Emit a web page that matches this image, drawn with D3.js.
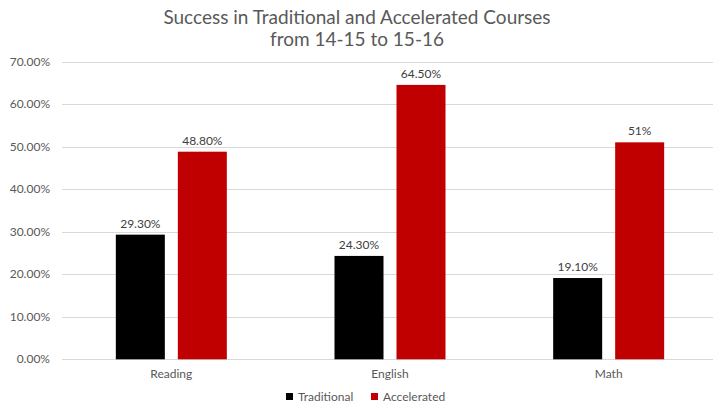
<!DOCTYPE html>
<html>
<head>
<meta charset="utf-8">
<script src="https://cdn.jsdelivr.net/npm/d3@7"></script>
<style>
  body { margin: 0; background: #fff; }
  svg { font-family: Lato, "Open Sans", sans-serif; }
</style>
</head>
<body>
<div id="chart"></div>
<script>
// chart data
const categories = ["Reading", "English", "Math"];
const series = ["Traditional", "Accelerated"];
const traditional = [29.3, 24.3, 19.1];
const accelerated = [48.8, 64.5, 51];
const valueLabels = {
  Traditional: ["29.30%", "24.30%", "19.10%"],
  Accelerated: ["48.80%", "64.50%", "51%"]
};
const yTicks = [0, 10, 20, 30, 40, 50, 60, 70];
const colors = { Traditional: "#000000", Accelerated: "#C00000" };

const W = 713, H = 407;
const margin = { top: 61.5, left: 62, bottom: 48 };
const plotRight = 718; // plot area runs past the right edge of the picture

const svg = d3.select("#chart")
  .append("svg")
  .attr("width", W)
  .attr("height", H);

const y = d3.scaleLinear()
  .domain([0, 70])
  .range([H - margin.bottom + 0.3, margin.top]);

const x0 = d3.scaleBand()
  .domain(categories)
  .range([margin.left, plotRight]);

const x1 = d3.scaleBand()
  .domain(series)
  .range([0, 111])
  .paddingInner(13 / 62);

// title
svg.append("text")
  .attr("x", 357).attr("y", 24)
  .attr("text-anchor", "middle")
  .style("font-size", "19px")
  .style("fill", "#595959")
  .text("Success in Traditional and Accelerated Courses");
svg.append("text")
  .attr("x", 357).attr("y", 46)
  .attr("text-anchor", "middle")
  .style("font-size", "19px")
  .style("fill", "#595959")
  .text("from 14-15 to 15-16");

// gridlines
svg.append("g")
  .selectAll("line")
  .data(yTicks)
  .enter()
  .append("line")
  .attr("x1", margin.left)
  .attr("x2", plotRight)
  .attr("y1", d => Math.round(y(d)) + 0.5)
  .attr("y2", d => Math.round(y(d)) + 0.5)
  .attr("stroke", "#D9D9D9")
  .attr("stroke-width", 1);

// y axis labels
svg.append("g")
  .selectAll("text")
  .data(yTicks)
  .enter()
  .append("text")
  .attr("x", 50)
  .attr("y", d => y(d) + 4)
  .attr("text-anchor", "end")
  .style("font-size", "12px")
  .style("fill", "#595959")
  .text(d => d.toFixed(2) + "%");

// bars
const groups = svg.append("g")
  .selectAll("g")
  .data(categories)
  .enter()
  .append("g")
  .attr("transform", c => `translate(${x0(c) + x0.bandwidth() / 2 - 55.5},0)`);

const valuesFor = { Traditional: traditional, Accelerated: accelerated };

groups.selectAll("rect")
  .data((c, i) => series.map(s => ({ s, v: valuesFor[s][i], label: valueLabels[s][i] })))
  .enter()
  .append("rect")
  .attr("x", d => x1(d.s))
  .attr("width", x1.bandwidth())
  .attr("y", d => y(d.v))
  .attr("height", d => y(0) - y(d.v))
  .attr("fill", d => colors[d.s]);

groups.selectAll("text.val")
  .data((c, i) => series.map(s => ({ s, v: valuesFor[s][i], label: valueLabels[s][i] })))
  .enter()
  .append("text")
  .attr("class", "val")
  .attr("x", d => x1(d.s) + x1.bandwidth() / 2)
  .attr("y", d => y(d.v) - 7)
  .attr("text-anchor", "middle")
  .style("font-size", "12px")
  .style("fill", "#404040")
  .text(d => d.label);

// category labels
svg.append("g")
  .selectAll("text")
  .data(categories)
  .enter()
  .append("text")
  .attr("x", c => x0(c) + x0.bandwidth() / 2)
  .attr("y", 378)
  .attr("text-anchor", "middle")
  .style("font-size", "12px")
  .style("fill", "#595959")
  .text(c => c);

// legend
const legend = svg.append("g").attr("transform", "translate(286, 397)");
const legendX = { Traditional: 0, Accelerated: 85 };
series.forEach(s => {
  legend.append("rect")
    .attr("x", legendX[s])
    .attr("y", -4)
    .attr("width", 7)
    .attr("height", 7)
    .attr("fill", colors[s]);
  legend.append("text")
    .attr("x", legendX[s] + 12)
    .attr("y", 4)
    .style("font-size", "12px")
    .style("fill", "#595959")
    .text(s);
});
</script>
</body>
</html>
